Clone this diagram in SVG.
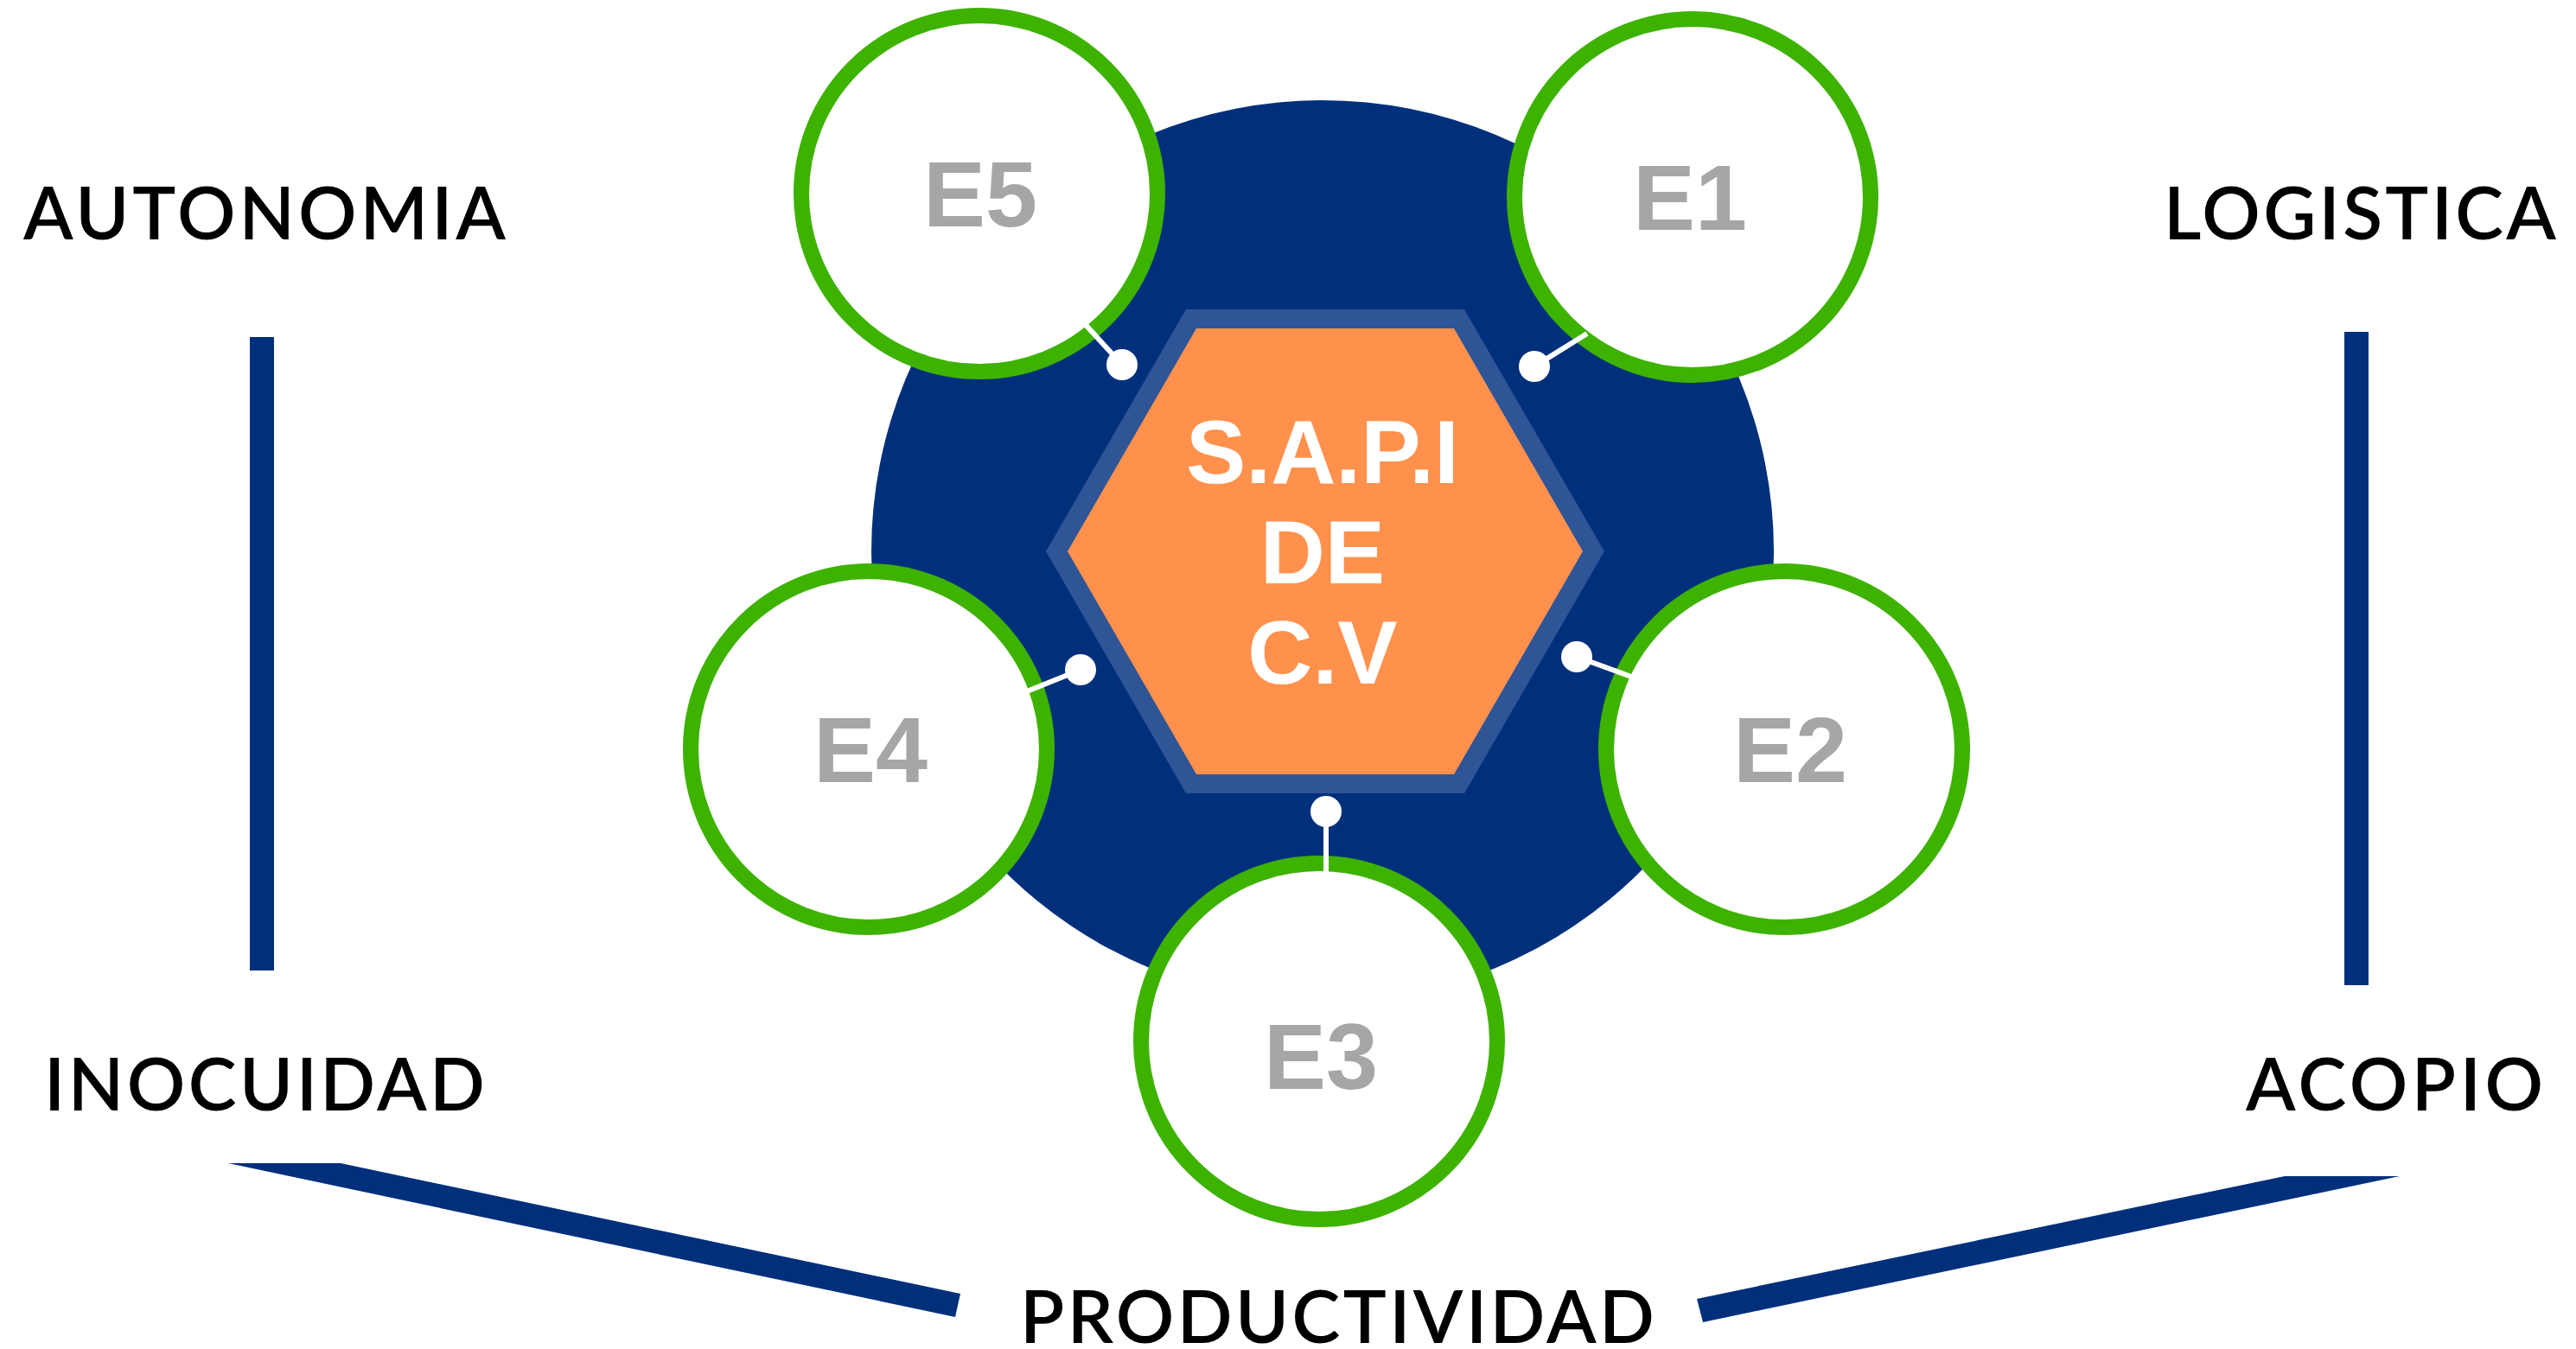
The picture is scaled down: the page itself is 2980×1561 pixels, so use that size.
<svg xmlns="http://www.w3.org/2000/svg" width="2980" height="1561" viewBox="0 0 2980 1561">
<style>
.lbl{font-family:Lato,"Open Sans","Liberation Sans",sans-serif;font-size:84px;font-weight:600;fill:#000;}
.enum{font-family:"Liberation Sans",Arial,sans-serif;font-weight:bold;font-size:108px;fill:#A6A6A6;text-anchor:middle;}
.ctr{font-family:"Liberation Sans",Arial,sans-serif;font-weight:bold;font-size:104px;fill:#fff;text-anchor:middle;}
.ring{fill:#fff;stroke:#3EB200;stroke-width:18;}
.bar{fill:#00307B;}
.conn{stroke:#fff;stroke-width:6;fill:none;}
.dot{fill:#fff;}
</style>
<rect width="2980" height="1561" fill="#fff"/>
<g id="bars">
<rect class="bar" x="289" y="390" width="28" height="733"/>
<rect class="bar" x="2712" y="384" width="28" height="756"/>
<polygon class="bar" points="264,1346 394,1346 1111,1497 1105,1524"/>
<polygon class="bar" points="2643,1361 2776,1361 1970,1530 1963,1503"/>
</g>
<g id="labels">
<text class="lbl" x="27" y="277" textLength="558" lengthAdjust="spacing">AUTONOMIA</text>
<text class="lbl" x="51" y="1285" textLength="510" lengthAdjust="spacing">INOCUIDAD</text>
<text class="lbl" x="2503" y="277" textLength="454" lengthAdjust="spacing">LOGISTICA</text>
<text class="lbl" x="2598" y="1285" textLength="344" lengthAdjust="spacing">ACOPIO</text>
<text class="lbl" x="1180" y="1554" textLength="734" lengthAdjust="spacing">PRODUCTIVIDAD</text>
</g>
<g id="hub">
<circle cx="1530" cy="638" r="522" fill="#00307B"/>
<polygon points="1856,638 1694,918 1372,918 1210,638 1372,358 1694,358" fill="#2F5597"/>
<polygon points="1831,638 1682,896 1384,896 1235,638 1384,380 1682,380" fill="#FF914D"/>
<text class="ctr" x="1530" y="559">S.A.P.I</text>
<text class="ctr" x="1530" y="675">DE</text>
<text class="ctr" x="1530" y="791">C.V</text>
</g>
<g id="E5"><circle class="ring" cx="1133" cy="224" r="206"/><text class="enum" x="1134" y="262">E5</text></g>
<g id="E1"><circle class="ring" cx="1958" cy="228" r="206"/><text class="enum" x="1955" y="266">E1</text></g>
<g id="E2"><circle class="ring" cx="2064" cy="867" r="206"/><text class="enum" x="2071" y="905">E2</text></g>
<g id="E3"><circle class="ring" cx="1526" cy="1205" r="206"/><text class="enum" x="1528" y="1260">E3</text></g>
<g id="E4"><circle class="ring" cx="1005" cy="867" r="206"/><text class="enum" x="1007" y="905">E4</text></g>
<g id="connectors">
<line class="conn" x1="1256" y1="376" x2="1298" y2="422"/><circle class="dot" cx="1298" cy="422" r="18"/>
<line class="conn" x1="1836" y1="386" x2="1775" y2="424"/><circle class="dot" cx="1775" cy="424" r="18"/>
<line class="conn" x1="1887" y1="783" x2="1824" y2="760"/><circle class="dot" cx="1824" cy="760" r="18"/>
<line class="conn" x1="1534" y1="1013" x2="1534" y2="939"/><circle class="dot" cx="1534" cy="939" r="18"/>
<line class="conn" x1="1188" y1="800" x2="1250" y2="775"/><circle class="dot" cx="1250" cy="775" r="18"/>
</g>
</svg>
